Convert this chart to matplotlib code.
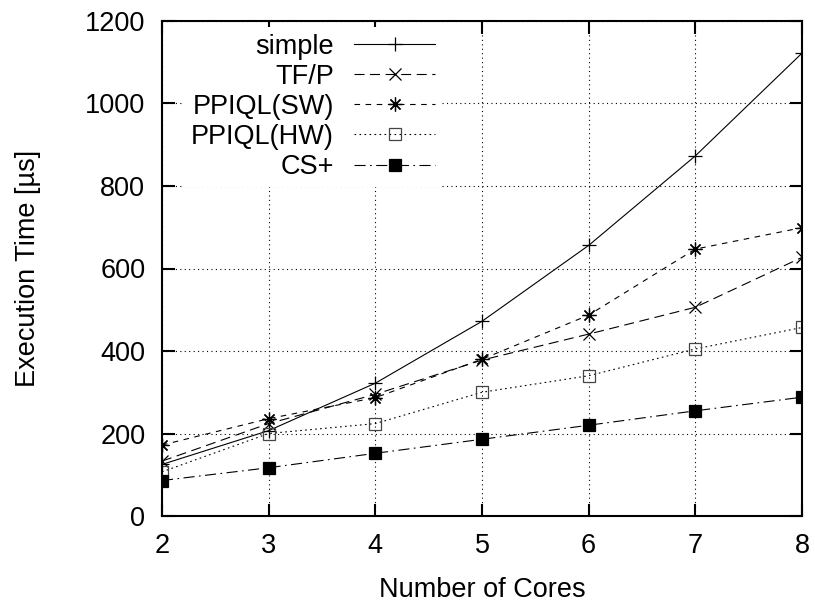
import numpy as np
from matplotlib import pyplot as plt

plt.rcParams['font.family'] = ['Liberation Sans', 'DejaVu Sans']

cores = [2, 3, 4, 5, 6, 7, 8]
simple = [125, 207, 322, 472, 656, 873, 1122]
tfp = [133, 224, 295, 378, 441, 506, 627]
ppiql_sw = [172, 236, 287, 380, 487, 647, 699]
ppiql_hw = [107, 200, 224, 300, 340, 405, 457]
cs_plus = [86, 117, 152, 186, 220, 255, 288]

W, H = 815, 603
fig = plt.figure(figsize=(W / 100, H / 100), dpi=100)
# plot box: x 162..802, y 21..516 (pixels)
ax = fig.add_axes([162 / W, 1 - 516 / H, 640 / W, 495 / H])

fs = 19.5
lw = 0.8
ax.plot(cores, simple, color='black', lw=lw, ls='-', marker='+', ms=10, mew=0.9, label='simple')
ax.plot(cores, tfp, color='black', lw=lw, ls=(0, (9, 5)), marker='x', ms=9, mew=0.9, label='TF/P')
ax.plot(cores, ppiql_sw, color='black', lw=lw, ls=(0, (5, 5)), marker=(8, 2, 0), ms=10, mew=0.9,
        label='PPIQL(SW)')
ax.plot(cores, ppiql_hw, color='black', lw=lw, ls=(0, (1.5, 3)), marker='s', ms=9, mew=0.9,
        mfc='none', mec='#444444', label='PPIQL(HW)')
ax.plot(cores, cs_plus, color='black', lw=lw, ls=(0, (10, 4, 1.5, 4)), marker='s', ms=9, mew=0.9,
        mfc='black', label='CS+')

ax.set_xlim(2, 8)
ax.set_ylim(0, 1200)
ax.set_xticks(cores)
ax.set_yticks(np.arange(0, 1201, 200))
ax.tick_params(direction='in', length=9, width=1.5, top=True, right=True, labelsize=fs)
ax.tick_params(axis='y', pad=12)
ax.tick_params(axis='x', pad=12)
ax.grid(True, color='black', ls=(0, (1, 3)), lw=0.8)
for s in ax.spines.values():
    s.set_linewidth(1.5)

ax.set_xlabel('Number of Cores', fontsize=fs, labelpad=13)
ax.set_ylabel('Execution Time [µs]', fontsize=fs, labelpad=32)

leg = ax.legend(loc='upper right', bbox_to_anchor=((442 - 162) / 640, (516 - 27) / 495),
                borderaxespad=0, markerfirst=False, fontsize=fs,
                handlelength=3.0, handletextpad=0.75, labelspacing=0.15, borderpad=0.25,
                frameon=True, fancybox=False, framealpha=1, facecolor='white', edgecolor='none')

plt.savefig('out.png')
